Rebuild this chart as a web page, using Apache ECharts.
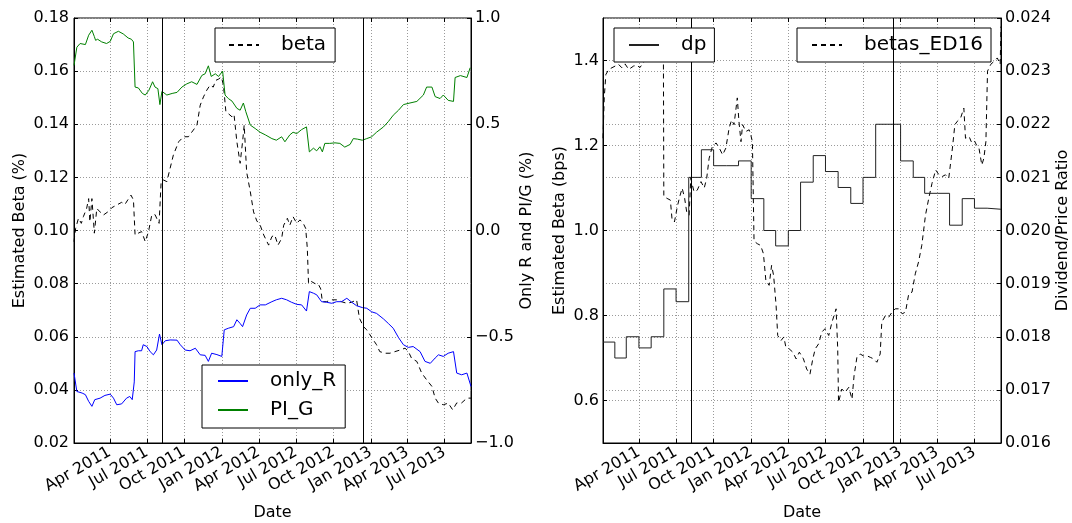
<!DOCTYPE html>
<html>
<head>
<meta charset="utf-8">
<script src="https://cdn.jsdelivr.net/npm/echarts@6/dist/echarts.min.js"></script>
<style>
  html, body { margin: 0; background: #fff; }
  #chart { width: 1072px; height: 523px; }
</style>
</head>
<body>
<div id="chart"></div>
<script>
// x range and quarter ticks
const xStart = "2011-01-03";
const xEnd = "2013-09-04";
const quarterTicks = ["2011-04-01", "2011-07-01", "2011-10-01", "2012-01-01", "2012-04-01",
  "2012-07-01", "2012-10-01", "2013-01-01", "2013-04-01", "2013-07-01"];
const eventDates = ["2011-08-08", "2012-12-13"];

// left panel, left axis
const betaDates = ["2011-01-03","2011-01-07","2011-01-14","2011-01-21","2011-01-26","2011-02-03","2011-02-08","2011-02-11","2011-02-16","2011-02-22","2011-02-28","2011-03-08","2011-03-16","2011-03-27","2011-04-06","2011-04-18","2011-04-30","2011-05-08","2011-05-15","2011-05-23","2011-05-29","2011-06-02","2011-06-10","2011-06-18","2011-06-27","2011-07-05","2011-07-13","2011-07-21","2011-07-28","2011-07-31","2011-08-05","2011-08-11","2011-08-19","2011-08-27","2011-09-04","2011-09-17","2011-09-29","2011-10-11","2011-10-23","2011-11-01","2011-11-09","2011-11-17","2011-11-25","2011-12-03","2011-12-11","2011-12-17","2011-12-24","2011-12-31","2012-01-05","2012-01-11","2012-01-17","2012-01-26","2012-01-31","2012-02-07","2012-02-15","2012-02-21","2012-02-25","2012-03-02","2012-03-11","2012-03-19","2012-03-27","2012-04-04","2012-04-13","2012-04-25","2012-05-03","2012-05-10","2012-05-18","2012-05-27","2012-06-01","2012-06-10","2012-06-16","2012-06-24","2012-07-03","2012-07-11","2012-07-19","2012-07-25","2012-07-29","2012-08-01","2012-08-08","2012-08-17","2012-08-25","2012-08-31","2012-09-04","2012-09-14","2012-09-27","2012-10-09","2012-10-21","2012-11-03","2012-11-15","2012-11-27","2012-12-04","2012-12-14","2012-12-22","2012-12-30","2013-01-07","2013-01-15","2013-01-23","2013-02-05","2013-02-17","2013-03-01","2013-03-14","2013-03-26","2013-04-03","2013-04-11","2013-04-24","2013-05-06","2013-05-18","2013-05-31","2013-06-08","2013-06-16","2013-06-28","2013-07-10","2013-07-21","2013-07-31","2013-08-12","2013-08-25","2013-09-04"];
const betaValues = [0.0958,0.1008,0.1046,0.1027,0.1052,0.1083,0.112,0.1033,0.112,0.099,0.1083,0.107,0.1058,0.107,0.1086,0.1096,0.1106,0.1098,0.1115,0.1133,0.1115,0.0983,0.099,0.0996,0.0958,0.0996,0.1058,0.106,0.1036,0.1027,0.1184,0.119,0.1184,0.1234,0.1284,0.1334,0.1353,0.1353,0.1378,0.1397,0.1472,0.1503,0.1528,0.1547,0.154,0.1565,0.157,0.1578,0.1547,0.1447,0.144,0.1428,0.1437,0.1334,0.1253,0.1334,0.1397,0.122,0.1146,0.107,0.1036,0.1021,0.0983,0.0945,0.0977,0.0983,0.0945,0.097,0.102,0.1046,0.102,0.1052,0.1027,0.104,0.1027,0.1008,0.0933,0.080,0.0808,0.080,0.0798,0.078,0.0732,0.0732,0.0739,0.0739,0.0732,0.0726,0.073,0.0739,0.067,0.0638,0.0626,0.0607,0.0588,0.057,0.0544,0.0538,0.0538,0.0544,0.055,0.0557,0.0545,0.0519,0.0507,0.0463,0.0438,0.0413,0.0369,0.035,0.0344,0.035,0.0325,0.0351,0.0351,0.0369,0.0369];

// left panel, right axis
const onlyRDates = ["2011-01-03","2011-01-10","2011-01-23","2011-01-31","2011-02-08","2011-02-16","2011-02-23","2011-03-08","2011-03-20","2011-04-02","2011-04-10","2011-04-18","2011-04-30","2011-05-12","2011-05-20","2011-05-26","2011-05-31","2011-06-02","2011-06-10","2011-06-18","2011-06-22","2011-07-01","2011-07-09","2011-07-17","2011-07-25","2011-08-01","2011-08-07","2011-08-15","2011-08-27","2011-09-13","2011-09-21","2011-10-03","2011-10-15","2011-10-28","2011-11-09","2011-11-21","2011-11-29","2011-12-07","2011-12-20","2012-01-01","2012-01-07","2012-01-17","2012-01-30","2012-02-07","2012-02-15","2012-02-21","2012-03-02","2012-03-11","2012-03-23","2012-04-04","2012-04-17","2012-05-03","2012-05-14","2012-05-27","2012-06-08","2012-06-20","2012-07-03","2012-07-15","2012-07-27","2012-08-03","2012-08-13","2012-08-21","2012-09-02","2012-09-14","2012-09-27","2012-10-09","2012-10-21","2012-11-03","2012-11-15","2012-11-27","2012-12-11","2012-12-22","2013-01-03","2013-01-15","2013-02-01","2013-02-13","2013-02-25","2013-03-10","2013-03-22","2013-04-03","2013-04-15","2013-05-02","2013-05-14","2013-05-27","2013-06-08","2013-06-16","2013-06-28","2013-07-10","2013-07-23","2013-07-31","2013-08-12","2013-08-25","2013-09-04"];
const onlyRValues = [-0.671,-0.7575,-0.765,-0.7725,-0.804,-0.8275,-0.796,-0.789,-0.776,-0.77,-0.789,-0.82,-0.816,-0.789,-0.781,-0.796,-0.7125,-0.57,-0.566,-0.566,-0.5375,-0.546,-0.57,-0.585,-0.5625,-0.4875,-0.5375,-0.519,-0.515,-0.516,-0.5375,-0.5625,-0.566,-0.554,-0.585,-0.5875,-0.616,-0.5775,-0.584,-0.5925,-0.4675,-0.46,-0.4525,-0.42,-0.4375,-0.4525,-0.3975,-0.366,-0.366,-0.35,-0.35,-0.335,-0.326,-0.319,-0.326,-0.3375,-0.3475,-0.35,-0.379,-0.2875,-0.295,-0.3025,-0.335,-0.3375,-0.3425,-0.335,-0.335,-0.319,-0.3375,-0.354,-0.3625,-0.366,-0.3825,-0.39,-0.416,-0.4375,-0.46,-0.504,-0.5375,-0.55,-0.546,-0.57,-0.616,-0.625,-0.60,-0.585,-0.5925,-0.5775,-0.57,-0.671,-0.679,-0.671,-0.734];

const piGDates = ["2011-01-03","2011-01-10","2011-01-18","2011-01-31","2011-02-08","2011-02-16","2011-02-22","2011-02-25","2011-03-02","2011-03-12","2011-03-24","2011-04-02","2011-04-10","2011-04-22","2011-05-04","2011-05-16","2011-05-24","2011-05-29","2011-06-02","2011-06-10","2011-06-20","2011-06-27","2011-07-06","2011-07-15","2011-07-21","2011-07-28","2011-08-02","2011-08-07","2011-08-19","2011-09-01","2011-09-13","2011-09-25","2011-10-07","2011-10-19","2011-11-01","2011-11-13","2011-11-21","2011-11-29","2011-12-06","2011-12-16","2011-12-24","2012-01-03","2012-01-09","2012-01-17","2012-01-26","2012-02-07","2012-02-15","2012-02-23","2012-02-29","2012-03-11","2012-03-23","2012-04-04","2012-04-17","2012-05-03","2012-05-14","2012-05-27","2012-06-04","2012-06-16","2012-06-24","2012-07-03","2012-07-15","2012-07-27","2012-07-31","2012-08-03","2012-08-13","2012-08-21","2012-08-29","2012-09-04","2012-09-10","2012-09-22","2012-10-05","2012-10-17","2012-10-29","2012-11-11","2012-11-19","2012-11-29","2012-12-11","2012-12-22","2013-01-03","2013-01-15","2013-02-01","2013-02-13","2013-02-25","2013-03-10","2013-03-22","2013-04-07","2013-04-24","2013-05-10","2013-05-18","2013-05-31","2013-06-08","2013-06-20","2013-06-28","2013-07-10","2013-07-23","2013-07-27","2013-08-09","2013-08-25","2013-09-02"];
const piGValues = [0.777,0.8625,0.88,0.875,0.919,0.9425,0.9125,0.895,0.90,0.8875,0.88,0.89,0.926,0.9375,0.925,0.906,0.90,0.8875,0.675,0.671,0.645,0.6375,0.66,0.70,0.675,0.6675,0.5925,0.655,0.6375,0.645,0.65,0.675,0.69,0.70,0.6875,0.73,0.7375,0.775,0.725,0.7375,0.725,0.75,0.6375,0.621,0.609,0.575,0.566,0.60,0.559,0.496,0.48,0.4625,0.45,0.4325,0.425,0.441,0.4175,0.45,0.4625,0.456,0.475,0.4875,0.48,0.37,0.3875,0.375,0.394,0.37,0.41,0.41,0.4125,0.41,0.3925,0.405,0.4325,0.43,0.425,0.4325,0.441,0.4625,0.4875,0.5125,0.5425,0.566,0.5925,0.60,0.6075,0.6375,0.675,0.675,0.63,0.621,0.6375,0.6125,0.6075,0.72,0.729,0.72,0.766];

// right panel, right axis (monthly, step)
const dpDates = ["2011-01-03","2011-02-01","2011-03-01","2011-04-01","2011-05-01","2011-06-01","2011-07-01","2011-08-01","2011-09-01","2011-10-01","2011-11-01","2011-12-01","2012-01-01","2012-02-01","2012-03-01","2012-04-01","2012-05-01","2012-06-01","2012-07-01","2012-08-01","2012-09-01","2012-10-01","2012-11-01","2012-12-01","2013-01-01","2013-02-01","2013-03-01","2013-04-01","2013-05-01","2013-06-01","2013-07-01","2013-08-01","2013-09-04"];
const dpValues = [0.0179,0.0176,0.0180,0.01779,0.0180,0.0189,0.01866,0.0210,0.02152,0.02122,0.02122,0.02131,0.0206,0.0200,0.01971,0.0200,0.02091,0.02141,0.02111,0.02081,0.02051,0.0210,0.0220,0.0220,0.02131,0.0210,0.0207,0.0207,0.0201,0.0206,0.02042,0.0204,0.0204];

// right panel, left axis
const edDates = ["2011-01-03","2011-01-06","2011-01-10","2011-01-17","2011-01-25","2011-02-02","2011-02-10","2011-02-18","2011-02-26","2011-03-07","2011-03-19","2011-03-28","2011-04-03","2011-04-20","2011-05-10","2011-05-31","2011-06-01","2011-06-09","2011-06-17","2011-06-21","2011-06-27","2011-07-04","2011-07-10","2011-07-16","2011-07-22","2011-07-27","2011-08-02","2011-08-06","2011-08-14","2011-08-22","2011-08-31","2011-09-08","2011-09-14","2011-09-20","2011-09-28","2011-10-07","2011-10-15","2011-10-23","2011-10-31","2011-11-08","2011-11-14","2011-11-20","2011-11-28","2011-12-02","2011-12-07","2011-12-11","2011-12-19","2011-12-27","2011-12-31","2012-01-04","2012-01-08","2012-01-16","2012-01-24","2012-01-31","2012-02-06","2012-02-14","2012-02-20","2012-02-25","2012-03-02","2012-03-06","2012-03-14","2012-03-21","2012-03-26","2012-04-03","2012-04-12","2012-04-20","2012-04-28","2012-05-08","2012-05-16","2012-05-24","2012-05-31","2012-06-06","2012-06-14","2012-06-22","2012-06-30","2012-07-09","2012-07-17","2012-07-22","2012-07-27","2012-07-31","2012-08-02","2012-08-10","2012-08-18","2012-08-27","2012-09-04","2012-09-09","2012-09-16","2012-09-24","2012-10-02","2012-10-11","2012-10-19","2012-10-27","2012-11-04","2012-11-12","2012-11-16","2012-11-25","2012-12-03","2012-12-11","2012-12-19","2012-12-27","2013-01-05","2013-01-13","2013-01-21","2013-01-29","2013-02-06","2013-02-14","2013-02-22","2013-03-03","2013-03-11","2013-03-19","2013-03-28","2013-04-05","2013-04-13","2013-04-21","2013-04-29","2013-05-08","2013-05-14","2013-05-20","2013-05-28","2013-06-05","2013-06-09","2013-06-18","2013-06-23","2013-06-30","2013-07-06","2013-07-12","2013-07-19","2013-07-24","2013-07-29","2013-08-02","2013-08-10","2013-08-18","2013-08-26","2013-09-02","2013-09-04"];
const edValues = [1.217,1.312,1.367,1.379,1.383,1.387,1.391,1.383,1.392,1.379,1.387,1.389,1.383,1.405,1.41,1.40,1.08,1.0755,1.0716,1.028,1.02,1.056,1.08,1.0995,1.0755,1.044,1.036,1.123,1.091,1.095,1.115,1.10,1.123,1.17,1.198,1.206,1.194,1.178,1.194,1.241,1.26,1.249,1.312,1.257,1.209,1.249,1.233,1.237,1.225,1.209,0.975,0.969,0.965,0.9456,0.882,0.871,0.918,0.894,0.824,0.753,0.741,0.7495,0.7255,0.7216,0.7137,0.698,0.7137,0.698,0.674,0.662,0.698,0.7216,0.733,0.761,0.769,0.753,0.7846,0.80,0.8157,0.7216,0.5956,0.627,0.6192,0.631,0.603,0.658,0.7015,0.7094,0.705,0.705,0.7015,0.698,0.69,0.7094,0.7846,0.80,0.796,0.808,0.8157,0.8157,0.804,0.808,0.851,0.855,0.898,0.9259,0.9654,1.036,1.0755,1.111,1.1425,1.131,1.127,1.131,1.123,1.194,1.249,1.257,1.2645,1.288,1.217,1.221,1.209,1.213,1.201,1.194,1.154,1.17,1.209,1.375,1.391,1.398,1.406,1.391,1.48];

const edTicks = [0.6, 0.8, 1.0, 1.2, 1.4];

const FONT = "DejaVu Sans";
const MONTHS = ["Jan","Feb","Mar","Apr","May","Jun","Jul","Aug","Sep","Oct","Nov","Dec"];

function ts(s) {
  const p = s.split("-");
  return new Date(+p[0], +p[1] - 1, +p[2]).getTime();
}
function zip(d, v) {
  return d.map((x, i) => [ts(x), v[i]]);
}
function minus(s) {
  return s.replace("-", "\u2212");
}

const tickTimes = quarterTicks.map(ts);
const gridLine = { show: true, lineStyle: { color: "#9a9a9a", type: [1, 2], width: 1 } };
const labelFont = { fontFamily: FONT, fontSize: 16, color: "#000" };
const nameFont = { fontFamily: FONT, fontSize: 16, color: "#000" };

// x axes are plain value axes over timestamps, ticks at quarter starts
function bottomX(gi) {
  return {
    type: "value", gridIndex: gi, min: ts(xStart), max: ts(xEnd), scale: true,
    axisLine: { onZero: false, lineStyle: { color: "#000" } },
    axisTick: { inside: true, length: 4, customValues: tickTimes, lineStyle: { color: "#000" } },
    axisLabel: Object.assign({
      customValues: tickTimes, rotate: 30, margin: 8,
      formatter: v => { const d = new Date(v); return MONTHS[d.getMonth()] + " " + d.getFullYear(); }
    }, labelFont),
    splitLine: gridLine,
    name: "Date", nameLocation: "middle", nameGap: 62, nameTextStyle: nameFont
  };
}
function topX(gi) {
  return {
    type: "value", gridIndex: gi, position: "top", min: ts(xStart), max: ts(xEnd), scale: true,
    axisLine: { show: false, onZero: false },
    axisTick: { inside: true, length: 4, customValues: tickTimes, lineStyle: { color: "#000" } },
    axisLabel: { show: false }, splitLine: { show: false }
  };
}

const legendBase = {
  orient: "vertical", itemWidth: 30, itemHeight: 14, itemGap: 9,
  borderColor: "#000", borderWidth: 1, borderRadius: 0, backgroundColor: "#fff",
  itemStyle: { opacity: 0 },
  textStyle: { fontFamily: FONT, fontSize: 20, color: "#000", padding: [0, 0, 0, 17] },
  selectedMode: false
};

const vLines = {
  symbol: ["none", "none"], silent: true, animation: false, z: 5,
  label: { show: false },
  lineStyle: { color: "#000", type: "solid", width: 1 },
  data: eventDates.map(d => ({ xAxis: ts(d) }))
};

const option = {
  animation: false,
  backgroundColor: "#fff",
  grid: [
    { left: 74, top: 18, width: 397, height: 425, show: true, borderColor: "#000", borderWidth: 1, outerBoundsMode: "none" },
    { left: 603, top: 18, width: 398, height: 425, show: true, borderColor: "#000", borderWidth: 1, outerBoundsMode: "none" }
  ],
  xAxis: [bottomX(0), bottomX(1), topX(0), topX(1)],
  yAxis: [
    {
      type: "value", gridIndex: 0, position: "left", min: 0.02, max: 0.18, interval: 0.02,
      axisLine: { show: true, onZero: false, lineStyle: { color: "#000" } },
      axisTick: { show: true, inside: true, length: 4, lineStyle: { color: "#000" } },
      axisLabel: Object.assign({ margin: 5, formatter: v => v.toFixed(2) }, labelFont),
      splitLine: gridLine,
      name: "Estimated Beta (%)", nameLocation: "middle", nameRotate: 90, nameGap: 46, nameTextStyle: nameFont
    },
    {
      type: "value", gridIndex: 0, position: "right", min: -1, max: 1, interval: 0.5,
      axisLine: { show: true, onZero: false, lineStyle: { color: "#000" } },
      axisTick: { show: true, inside: true, length: 4, lineStyle: { color: "#000" } },
      axisLabel: Object.assign({ margin: 4, formatter: v => minus(v.toFixed(1)) }, labelFont),
      splitLine: { show: false },
      name: "Only R and PI/G (%)", nameLocation: "middle", nameRotate: 90, nameGap: 48, nameTextStyle: nameFont
    },
    {
      type: "value", gridIndex: 1, position: "left", min: 0.5, max: 1.5, interval: 0.1,
      axisLine: { show: true, onZero: false, lineStyle: { color: "#000" } },
      axisTick: { show: true, inside: true, length: 4, customValues: edTicks, lineStyle: { color: "#000" } },
      axisLabel: Object.assign({ margin: 4, customValues: edTicks, formatter: v => v.toFixed(1) }, labelFont),
      splitLine: gridLine,
      name: "Estimated Beta (bps)", nameLocation: "middle", nameRotate: 90, nameGap: 35, nameTextStyle: nameFont
    },
    {
      type: "value", gridIndex: 1, position: "right", min: 0.016, max: 0.024, interval: 0.001,
      axisLine: { show: true, onZero: false, lineStyle: { color: "#000" } },
      axisTick: { show: true, inside: true, length: 4, lineStyle: { color: "#000" } },
      axisLabel: Object.assign({ margin: 4, formatter: v => v.toFixed(3) }, labelFont),
      splitLine: gridLine,
      name: "Dividend/Price Ratio", nameLocation: "middle", nameRotate: 90, nameGap: 53, nameTextStyle: nameFont
    }
  ],
  legend: [
    Object.assign({}, legendBase, { data: ["beta"], left: 215, top: 28, padding: [7, 9, 7, 13] }),
    Object.assign({}, legendBase, { data: ["only_R", "PI_G"], left: 202, top: 365, padding: [6, 9, 8, 15] }),
    Object.assign({}, legendBase, { data: ["dp"], left: 614, top: 28, padding: [7, 8, 7, 14], z: 6 }),
    Object.assign({}, legendBase, { data: ["betas_ED16"], left: 797, top: 28, padding: [7, 8, 7, 14], z: 3 })
  ],
  series: [
    {
      name: "beta", type: "line", xAxisIndex: 0, yAxisIndex: 0, symbol: "none",
      lineStyle: { color: "#000", width: 1, type: [5, 4] }, itemStyle: { color: "#000" },
      data: zip(betaDates, betaValues), markLine: vLines
    },
    {
      name: "only_R", type: "line", xAxisIndex: 0, yAxisIndex: 1, symbol: "none",
      lineStyle: { color: "#0000ff", width: 1 }, itemStyle: { color: "#0000ff" },
      data: zip(onlyRDates, onlyRValues)
    },
    {
      name: "PI_G", type: "line", xAxisIndex: 0, yAxisIndex: 1, symbol: "none",
      lineStyle: { color: "#008000", width: 1 }, itemStyle: { color: "#008000" },
      data: zip(piGDates, piGValues)
    },
    {
      name: "betas_ED16", type: "line", xAxisIndex: 1, yAxisIndex: 2, symbol: "none",
      lineStyle: { color: "#000", width: 1, type: [5, 4] }, itemStyle: { color: "#000" },
      data: zip(edDates, edValues)
    },
    {
      name: "dp", type: "line", xAxisIndex: 1, yAxisIndex: 3, symbol: "none", step: "end",
      lineStyle: { color: "#222", width: 1 }, itemStyle: { color: "#222" },
      data: zip(dpDates, dpValues), markLine: vLines
    }
  ]
};

const chart = echarts.init(document.getElementById("chart"));
chart.setOption(option);
window.addEventListener("resize", () => chart.resize());
</script>
</body>
</html>
